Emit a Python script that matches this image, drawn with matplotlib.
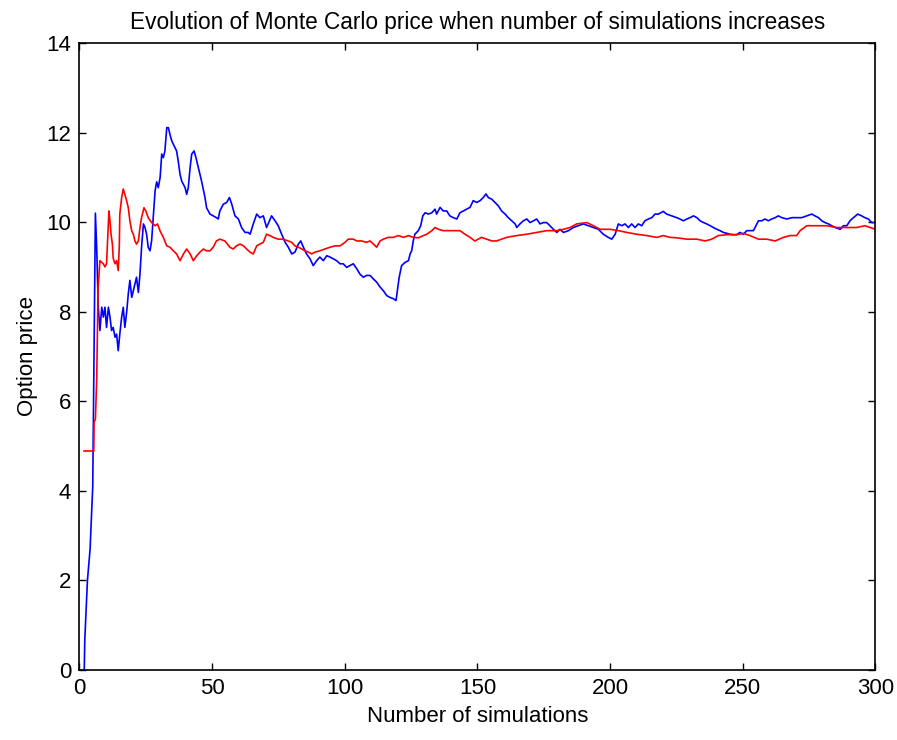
import matplotlib
matplotlib.use("Agg")
import matplotlib.pyplot as plt

# Values (simulation count, running MC price)
blue_n = [1.8, 2.0, 3.0, 4.0, 5.0, 6.0, 6.5, 7.1, 7.7, 8.4, 9.0, 9.6, 10.2, 10.9,
          11.5, 12.1, 12.7, 13.4, 14.0, 14.6, 15.2, 15.9, 16.5, 17.1, 17.8, 18.4,
          19.0, 19.7, 20.3, 20.9, 21.5, 22.2, 22.8, 23.4, 24.1, 24.7, 25.3, 25.9,
          26.6, 27.2, 27.8, 28.5, 29.1, 29.7, 30.4, 31.0, 31.6, 32.2, 32.9, 33.5,
          34.1, 34.8, 36.0, 36.6, 37.2, 37.9, 38.5, 39.8, 40.4, 41.0, 41.7, 42.3,
          43.2, 43.9, 44.8, 46.0, 47.3, 47.9, 49.2, 50.4, 51.6, 52.3, 52.9, 54.2,
          55.5, 56.5, 57.4, 58.6, 59.9, 61.1, 62.4, 63.6, 64.3, 65.5, 66.8, 68.0,
          69.3, 70.5, 71.1, 72.4, 73.7, 74.9, 76.2, 77.5, 78.7, 80.0, 81.2, 82.5,
          83.4, 84.4, 85.6, 86.9, 88.1, 89.4, 90.6, 91.9, 93.2, 94.4, 95.7, 96.9,
          98.2, 99.4, 100.7, 101.9, 103.2, 104.5, 105.7, 107.0, 108.2, 109.5,
          110.8, 112.0, 113.3, 114.5, 115.8, 117.0, 118.3, 119.3, 119.8, 120.5,
          121.4, 122.7, 124.0, 124.6, 125.2, 125.8, 126.4, 127.7, 128.6, 129.4,
          130.3, 131.5, 132.8, 134.0, 134.6, 135.9, 137.1, 138.4, 139.6, 140.9,
          142.2, 143.4, 144.7, 145.9, 147.2, 148.4, 149.7, 151.0, 152.2, 153.2,
          154.1, 155.4, 156.6, 157.9, 159.1, 160.4, 161.6, 162.9, 164.2, 164.8,
          166.0, 167.3, 168.6, 169.8, 171.1, 172.3, 173.6, 174.8, 176.1, 177.3,
          178.6, 179.9, 181.1, 182.4, 184.3, 186.1, 188.0, 189.9, 191.8, 193.7,
          195.6, 197.4, 199.3, 200.6, 201.9, 203.1, 204.4, 205.6, 206.9, 208.1,
          209.4, 210.6, 211.9, 213.1, 214.4, 215.7, 216.9, 218.2, 220.0, 221.3,
          223.2, 225.1, 226.3, 227.6, 228.9, 230.1, 231.4, 232.7, 233.9, 235.2,
          236.4, 237.7, 238.9, 240.2, 241.4, 242.7, 243.9, 245.2, 246.4, 247.7,
          248.9, 250.2, 251.5, 252.7, 254.0, 254.6, 255.9, 257.1, 258.4, 259.6,
          260.9, 262.2, 263.4, 264.7, 266.6, 268.5, 270.3, 272.2, 274.1, 276.0,
          277.2, 278.5, 279.8, 281.0, 282.3, 283.5, 284.8, 286.7, 287.9, 289.2,
          290.4, 291.7, 293.3, 294.8, 296.0, 297.3, 298.6, 300.0]
blue_price = [0.0, 0.67, 2.0, 2.7, 4.1, 10.2, 9.4, 8.1, 7.58, 8.1, 7.88, 8.1, 7.65,
              8.1, 7.88, 7.58, 7.65, 7.43, 7.5, 7.13, 7.5, 7.88, 8.1, 7.65, 8.0,
              8.4, 8.7, 8.32, 8.47, 8.62, 8.77, 8.43, 8.84, 9.44, 9.96, 9.88, 9.73,
              9.44, 9.36, 9.59, 10.1, 10.7, 10.9, 10.77, 11.0, 11.52, 11.44, 11.59,
              12.11, 12.11, 11.96, 11.81, 11.66, 11.59, 11.37, 11.07, 10.92, 10.77,
              10.62, 10.77, 11.22, 11.52, 11.59, 11.44, 11.22, 10.92, 10.55, 10.32,
              10.18, 10.14, 10.1, 10.07, 10.25, 10.4, 10.44, 10.55, 10.4, 10.14,
              10.07, 9.88, 9.77, 9.77, 9.73, 9.96, 10.18, 10.1, 10.14, 9.88, 9.96,
              10.14, 10.03, 9.92, 9.73, 9.55, 9.44, 9.29, 9.33, 9.51, 9.58, 9.44,
              9.29, 9.18, 9.03, 9.14, 9.22, 9.14, 9.25, 9.22, 9.18, 9.14, 9.07,
              9.07, 8.99, 9.03, 9.07, 8.96, 8.84, 8.77, 8.81, 8.81, 8.73, 8.66,
              8.55, 8.47, 8.36, 8.32, 8.29, 8.25, 8.47, 8.77, 9.03, 9.1, 9.14, 9.29,
              9.36, 9.58, 9.73, 9.81, 9.92, 10.14, 10.21, 10.18, 10.21, 10.29, 10.18,
              10.33, 10.25, 10.25, 10.14, 10.1, 10.07, 10.21, 10.25, 10.29, 10.33,
              10.48, 10.44, 10.48, 10.55, 10.63, 10.55, 10.51, 10.44, 10.36, 10.25,
              10.18, 10.1, 10.03, 9.96, 9.88, 9.96, 10.03, 10.07, 9.99, 10.03, 10.07,
              9.96, 9.99, 9.99, 9.92, 9.84, 9.77, 9.84, 9.77, 9.81, 9.88, 9.92, 9.96,
              9.92, 9.88, 9.84, 9.73, 9.66, 9.62, 9.73, 9.96, 9.92, 9.96, 9.88, 9.96,
              9.88, 9.96, 9.92, 10.03, 10.07, 10.1, 10.18, 10.18, 10.24, 10.18,
              10.14, 10.1, 10.07, 10.03, 10.07, 10.1, 10.14, 10.1, 10.03, 9.99, 9.96,
              9.92, 9.88, 9.84, 9.81, 9.77, 9.75, 9.73, 9.72, 9.72, 9.77, 9.73, 9.81,
              9.81, 9.81, 9.88, 10.03, 10.03, 10.07, 10.03, 10.07, 10.1, 10.14, 10.1,
              10.07, 10.1, 10.1, 10.1, 10.14, 10.18, 10.14, 10.1, 10.03, 9.99, 9.96,
              9.92, 9.88, 9.84, 9.92, 9.92, 10.03, 10.1, 10.18, 10.14, 10.1, 10.07,
              9.99, 9.99]

red_n = [1.7, 5.4, 5.5, 6.0, 6.5, 7.0, 7.7, 8.4, 9.0, 9.6, 10.2, 10.6, 11.1, 11.5,
         11.9, 12.4, 12.7, 13.4, 14.0, 14.6, 15.0, 15.2, 15.9, 16.5, 17.1, 17.8,
         18.4, 19.0, 19.7, 20.3, 20.9, 21.5, 22.2, 22.8, 23.4, 24.3, 25.0, 25.9,
         27.2, 28.5, 29.4, 30.4, 31.6, 32.9, 34.1, 35.4, 36.6, 37.9, 39.2, 40.4,
         41.7, 42.9, 44.2, 45.4, 46.7, 47.9, 49.2, 50.4, 51.6, 52.9, 54.8, 56.7,
         57.9, 59.2, 60.5, 61.8, 63.0, 64.3, 65.5, 66.8, 68.0, 69.3, 70.5, 71.8,
         73.0, 74.9, 76.8, 78.7, 80.0, 81.2, 82.5, 83.8, 85.0, 86.3, 87.5, 88.8,
         90.6, 92.5, 94.4, 96.3, 98.2, 100.1, 101.3, 103.2, 104.5, 106.3, 108.2,
         109.5, 110.8, 112.0, 113.3, 114.5, 116.4, 118.3, 120.2, 122.1, 124.0,
         125.8, 127.7, 129.6, 130.9, 132.8, 134.0, 135.3, 137.1, 139.6, 143.4,
         145.3, 147.2, 149.0, 150.3, 151.5, 153.4, 155.4, 157.2, 159.1, 161.0,
         164.8, 168.6, 172.3, 176.1, 179.9, 182.4, 184.9, 187.4, 191.2, 193.7,
         196.2, 200.0, 203.1, 206.3, 210.0, 213.8, 217.6, 220.0, 222.6, 225.1,
         228.9, 232.7, 235.8, 238.3, 240.8, 243.9, 247.7, 250.2, 252.7, 255.9,
         259.0, 262.2, 265.3, 267.8, 270.3, 271.6, 274.1, 277.9, 281.6, 285.4,
         289.2, 292.9, 296.0, 300.0]
red_price = [4.89, 4.89, 5.53, 5.6, 6.5, 8.5, 9.14, 9.1, 9.07, 9.0, 9.07, 9.58,
             10.25, 10.03, 9.73, 9.51, 9.2, 9.07, 9.14, 8.92, 9.44, 10.18, 10.55,
             10.74, 10.62, 10.47, 10.32, 10.03, 9.8, 9.73, 9.58, 9.51, 9.58, 9.88,
             10.1, 10.32, 10.25, 10.1, 9.99, 9.92, 9.96, 9.8, 9.66, 9.47, 9.44,
             9.36, 9.29, 9.14, 9.29, 9.4, 9.29, 9.14, 9.25, 9.33, 9.4, 9.36, 9.36,
             9.44, 9.58, 9.62, 9.58, 9.44, 9.4, 9.47, 9.51, 9.47, 9.4, 9.33, 9.29,
             9.47, 9.51, 9.55, 9.73, 9.7, 9.66, 9.62, 9.62, 9.58, 9.55, 9.47, 9.44,
             9.4, 9.36, 9.33, 9.29, 9.33, 9.36, 9.4, 9.44, 9.47, 9.47, 9.55, 9.62,
             9.62, 9.58, 9.58, 9.55, 9.58, 9.51, 9.44, 9.58, 9.62, 9.66, 9.66, 9.7,
             9.66, 9.7, 9.66, 9.65, 9.7, 9.73, 9.81, 9.88, 9.84, 9.81, 9.81, 9.81,
             9.73, 9.66, 9.58, 9.62, 9.66, 9.62, 9.58, 9.58, 9.62, 9.66, 9.7, 9.73,
             9.77, 9.81, 9.81, 9.84, 9.88, 9.96, 9.99, 9.92, 9.84, 9.84, 9.81,
             9.77, 9.73, 9.7, 9.66, 9.7, 9.66, 9.65, 9.62, 9.62, 9.58, 9.62, 9.7,
             9.72, 9.72, 9.75, 9.7, 9.62, 9.62, 9.58, 9.66, 9.7, 9.7, 9.81, 9.92,
             9.92, 9.92, 9.88, 9.88, 9.88, 9.92, 9.84]

x_ticks = [0, 50, 100, 150, 200, 250, 300]
y_ticks = [0, 2, 4, 6, 8, 10, 12, 14]

plt.rcParams["font.family"] = ["Liberation Sans", "DejaVu Sans"]

fig = plt.figure(figsize=(8.97, 7.40), dpi=100)
ax = fig.add_axes([0.0886, 0.0946, 0.8874, 0.8473])

ax.plot(blue_n, blue_price, color="#0000ff", linewidth=1.2)
ax.plot(red_n, red_price, color="#ff0000", linewidth=1.2)

ax.set_xlim(0, 300)
ax.set_ylim(0, 14)
ax.set_xticks(x_ticks)
ax.set_yticks(y_ticks)
ax.tick_params(direction="in", length=5, width=1, top=True, right=True,
               labelsize=16, pad=6)
for s in ax.spines.values():
    s.set_linewidth(1.2)

ax.set_title("Evolution of Monte Carlo price when number of simulations increases",
             fontsize=16.3, pad=10)
ax.set_xlabel("Number of simulations", fontsize=16, labelpad=5)
ax.set_ylabel("Option price", fontsize=16, labelpad=6)

fig.savefig("out.png", dpi=100)
